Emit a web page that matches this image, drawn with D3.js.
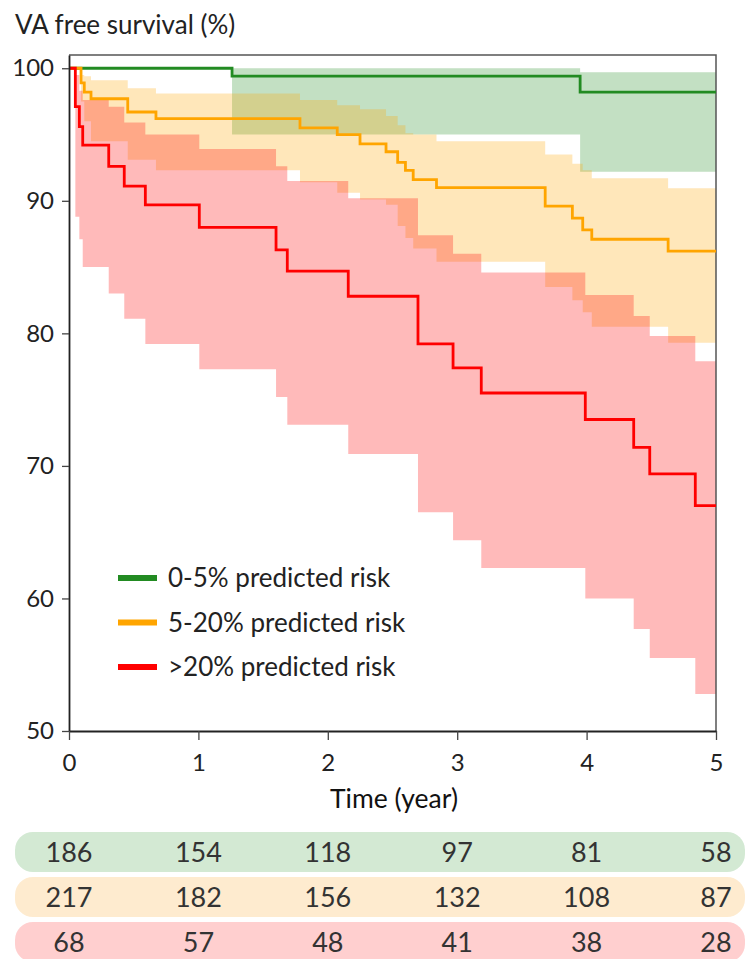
<!DOCTYPE html>
<html>
<head>
<meta charset="utf-8">
<script src="https://cdnjs.cloudflare.com/ajax/libs/d3/7.8.5/d3.min.js"></script>
<style>
  html, body { margin: 0; padding: 0; background: #fff; }
  svg { display: block; font-family: Lato, "Open Sans", sans-serif; }
</style>
</head>
<body>
<div id="chart"></div>
<script>
// axis ticks
var years = [0, 1, 2, 3, 4, 5];
var yTicks = [50, 60, 70, 80, 90, 100];
var groupNames = ["0-5% predicted risk", "5-20% predicted risk", ">20% predicted risk"];

// 0-5% predicted risk
var lowTime  = [0, 1.26, 3.95];
var lowSurv  = [100, 99.4, 98.2];
var lowLower = [100, 95.0, 92.2];
var lowUpper = [100, 100, 99.7];

// 5-20% predicted risk
var midTime  = [0, 0.093, 0.118, 0.17, 0.454, 0.672, 1.785, 2.073, 2.249, 2.45, 2.54, 2.60, 2.66, 2.84, 3.68, 3.89, 3.97, 4.04, 4.63];
var midSurv  = [100, 98.9, 98.2, 97.7, 96.7, 96.2, 95.5, 95.0, 94.3, 93.7, 92.9, 92.3, 91.6, 91.0, 89.6, 88.7, 87.8, 87.1, 86.2];
var midLower = [100, 97.5, 96.0, 94.5, 93.1, 92.3, 91.4, 90.6, 90.1, 89.7, 88.1, 87.2, 86.4, 85.4, 83.5, 82.5, 81.6, 80.5, 79.3];
var midUpper = [100, 99.5, 99.4, 99.1, 98.5, 98.1, 97.6, 97.2, 96.9, 96.4, 95.7, 95.1, 95.0, 94.5, 93.5, 92.8, 92.3, 91.7, 90.95];

// >20% predicted risk
var highTime  = [0, 0.049, 0.080, 0.106, 0.307, 0.427, 0.590, 1.007, 1.60, 1.687, 2.158, 2.697, 2.968, 3.186, 3.99, 4.364, 4.488, 4.84];
var highSurv  = [100, 97.1, 95.6, 94.2, 92.6, 91.1, 89.7, 88.0, 86.3, 84.7, 82.8, 79.2, 77.4, 75.5, 73.5, 71.4, 69.4, 67.0];
var highLower = [100, 88.8, 87.1, 85.0, 83.0, 81.1, 79.2, 77.3, 75.2, 73.1, 70.9, 66.5, 64.4, 62.3, 60.0, 57.7, 55.5, 52.8];
var highUpper = [100, 99.5, 98.3, 97.6, 97.1, 95.9, 95.0, 93.9, 92.6, 91.5, 90.2, 87.4, 86.0, 84.6, 82.9, 81.3, 79.8, 77.9];

// number at risk
var riskLow  = [186, 154, 118, 97, 81, 58];
var riskMid  = [217, 182, 156, 132, 108, 87];
var riskHigh = [68, 57, 48, 41, 38, 28];

var lineColors = ["#228b22", "#ffa500", "#ff0000"];
var pillColors = ["#d3e9d3", "#feebcf", "#ffcfcf"];

function buildSteps(time, surv, lower, upper) {
    var pts = time.map(function (t, i) {
        return {t: t, s: surv[i], lo: lower[i], hi: upper[i]};
    });
    var last = pts[pts.length - 1];
    pts.push({t: 5, s: last.s, lo: last.lo, hi: last.hi});
    return pts;
}

var groups = [
    buildSteps(lowTime, lowSurv, lowLower, lowUpper),
    buildSteps(midTime, midSurv, midLower, midUpper),
    buildSteps(highTime, highSurv, highLower, highUpper)
];
var riskRows = [riskLow, riskMid, riskHigh];

var width = 746, height = 959;

var svg = d3.select("#chart").append("svg")
    .attr("width", width)
    .attr("height", height);

var x = d3.scaleLinear().domain([0, 5]).range([69, 716]);
var y = d3.scaleLinear().domain([50, 101]).range([731, 55]);

// confidence bands
var band = d3.area()
    .curve(d3.curveStepAfter)
    .x(function (d) { return x(d.t); })
    .y0(function (d) { return y(d.lo); })
    .y1(function (d) { return y(d.hi); });

svg.append("g").selectAll("path.band")
    .data(groups)
    .enter()
    .append("path")
    .attr("class", "band")
    .attr("d", band)
    .attr("fill", function (d, i) { return lineColors[i]; })
    .attr("fill-opacity", 0.27);

// frame top + right
svg.append("path")
    .attr("d", "M" + x(0) + "," + y(101) + "H" + x(5) + "V" + y(50))
    .attr("fill", "none")
    .attr("stroke", "#555")
    .attr("stroke-width", 1.5);

// survival curves
var line = d3.line()
    .curve(d3.curveStepAfter)
    .x(function (d) { return x(d.t); })
    .y(function (d) { return y(d.s); });

svg.append("g").selectAll("path.km")
    .data(groups)
    .enter()
    .append("path")
    .attr("class", "km")
    .attr("d", line)
    .attr("fill", "none")
    .attr("stroke", function (d, i) { return lineColors[i]; })
    .attr("stroke-width", 2.8);

// axes
var yAxis = svg.append("g")
    .attr("transform", "translate(" + x(0) + ",0)")
    .call(d3.axisLeft(y).tickValues(yTicks).tickSize(7).tickSizeOuter(0).tickPadding(8));

var xAxis = svg.append("g")
    .attr("transform", "translate(0," + y(50) + ")")
    .call(d3.axisBottom(x).tickValues(years).tickFormat(d3.format("d")).tickSize(9).tickSizeOuter(0));

[yAxis, xAxis].forEach(function (ax) {
    ax.select(".domain").attr("stroke", "#222").attr("stroke-width", 1.8);
    ax.selectAll(".tick line").attr("stroke", "#444").attr("stroke-width", 1.3);
    ax.selectAll(".tick text")
        .attr("fill", "#222")
        .style("font-size", "24px")
        .style("font-family", "Lato, sans-serif");
});
xAxis.selectAll(".tick text").attr("y", 40).attr("dy", 0);

// title and axis label
svg.append("text")
    .attr("x", 15)
    .attr("y", 34)
    .attr("fill", "#222")
    .style("font-size", "26px")
    .text("VA free survival (%)");

svg.append("text")
    .attr("x", 394)
    .attr("y", 808)
    .attr("text-anchor", "middle")
    .attr("fill", "#111")
    .style("font-size", "26.5px")
    .text("Time (year)");

// legend
var legend = svg.append("g").selectAll("g.legendItem")
    .data(groupNames)
    .enter()
    .append("g")
    .attr("class", "legendItem")
    .attr("transform", function (d, i) { return "translate(118," + (578 + i * 44.5) + ")"; });

legend.append("line")
    .attr("x1", 0).attr("x2", 39)
    .attr("stroke", function (d, i) { return lineColors[i]; })
    .attr("stroke-width", 6);

legend.append("text")
    .attr("x", 50)
    .attr("dy", "0.35em")
    .attr("fill", "#222")
    .style("font-size", "26px")
    .text(function (d) { return d; });

// risk table
var rows = svg.append("g").selectAll("g.riskRow")
    .data(riskRows)
    .enter()
    .append("g")
    .attr("class", "riskRow")
    .attr("transform", function (d, i) { return "translate(0," + (832 + i * 45) + ")"; });

rows.append("rect")
    .attr("x", 15)
    .attr("width", 730)
    .attr("height", 40)
    .attr("rx", 18)
    .attr("fill", function (d, i) { return pillColors[i]; });

rows.selectAll("text")
    .data(function (d) { return d; })
    .enter()
    .append("text")
    .attr("x", function (d, i) { return x(years[i]); })
    .attr("y", 20)
    .attr("dy", "0.36em")
    .attr("text-anchor", "middle")
    .attr("fill", "#333")
    .style("font-size", "27px")
    .text(function (d) { return d; });
</script>
</body>
</html>
